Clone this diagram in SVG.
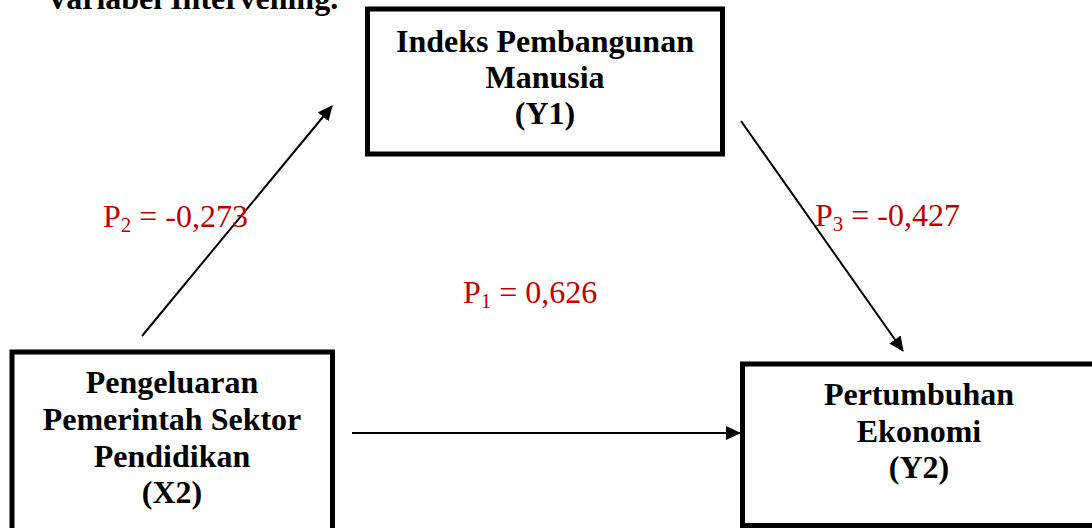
<svg xmlns="http://www.w3.org/2000/svg" width="1092" height="528" viewBox="0 0 1092 528">
  <style>
    .box { fill: #ffffff; stroke: #000000; stroke-width: 5; }
    .title { font-family: "Liberation Serif", "Times New Roman", serif; font-weight: bold; font-size: 32px; fill: #000000; text-anchor: middle; }
    .head { font-family: "Liberation Serif", "Times New Roman", serif; font-weight: bold; font-size: 32px; fill: #000000; }
    .coef { font-family: "Liberation Serif", "Times New Roman", serif; font-size: 32px; fill: #c00000; }
    .sub { font-size: 21px; }
    .link { stroke: #000000; stroke-width: 2; fill: none; marker-end: url(#arrow); }
  </style>
  <defs>
    <marker id="arrow" markerUnits="userSpaceOnUse" markerWidth="15" markerHeight="14" refX="14" refY="7" orient="auto">
      <path d="M0,0 L15,7 L0,14 z" fill="#000000"/>
    </marker>
  </defs>

  <rect width="1092" height="528" fill="#ffffff"/>

  <text class="head" x="46" y="9">Variabel Intervening.</text>

  <g id="connectors">
    <line class="link" x1="142" y1="336" x2="332" y2="106"/>
    <line class="link" x1="741" y1="121" x2="903" y2="351"/>
    <line class="link" x1="352" y1="433" x2="740" y2="433"/>
  </g>

  <g id="node-y1">
    <rect class="box" x="367.5" y="9" width="355" height="145"/>
    <text class="title" x="545" y="52">Indeks Pembangunan</text>
    <text class="title" x="545" y="88">Manusia</text>
    <text class="title" x="545" y="124">(Y1)</text>
  </g>

  <g id="node-x2">
    <rect class="box" x="12" y="352" width="320.5" height="200"/>
    <text class="title" x="172" y="393">Pengeluaran</text>
    <text class="title" x="172" y="430">Pemerintah Sektor</text>
    <text class="title" x="172" y="467">Pendidikan</text>
    <text class="title" x="172" y="503">(X2)</text>
  </g>

  <g id="node-y2">
    <rect class="box" x="742.5" y="364" width="400" height="161.5"/>
    <text class="title" x="919" y="405">Pertumbuhan</text>
    <text class="title" x="919" y="442">Ekonomi</text>
    <text class="title" x="919" y="478">(Y2)</text>
  </g>

  <g id="coefficients">
    <text class="coef" x="103" y="227">P<tspan class="sub" dy="5">2</tspan><tspan dy="-5"> = -0,273</tspan></text>
    <text class="coef" x="815" y="226">P<tspan class="sub" dy="5">3</tspan><tspan dy="-5"> = -0,427</tspan></text>
    <text class="coef" x="463" y="303">P<tspan class="sub" dy="5">1</tspan><tspan dy="-5"> = 0,626</tspan></text>
  </g>
</svg>
